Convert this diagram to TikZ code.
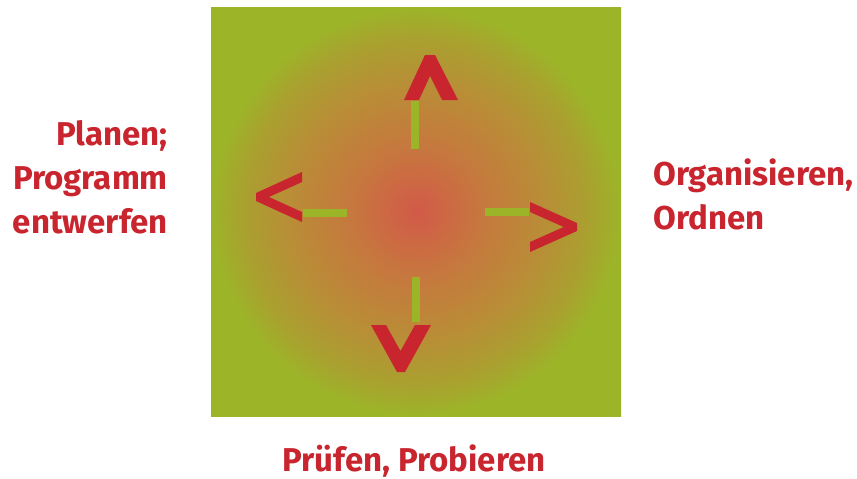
\documentclass[tikz,border=0pt]{standalone}
\usepackage{fontspec}
\setmainfont{Fira Sans}
\usetikzlibrary{positioning}

\definecolor{zielrot}{RGB}{201,37,47}
\definecolor{wiesengruen}{RGB}{156,181,40}
\definecolor{kernrot}{RGB}{210,90,72}
\definecolor{glutorange}{RGB}{198,120,62}
\definecolor{glutbraun}{RGB}{186,140,55}
\definecolor{glutoliv}{RGB}{170,160,48}
\pgfdeclareradialshading{glut}{\pgfpoint{0bp}{0bp}}{color(0bp)=(kernrot); color(8bp)=(glutorange); color(15bp)=(glutbraun); color(21bp)=(glutoliv); color(25bp)=(wiesengruen); color(50bp)=(wiesengruen)}

\begin{document}
\begin{tikzpicture}[
    x=1pt, y=-1pt,
    caption/.style={text=zielrot, font=\fontsize{33}{44}\selectfont\bfseries, inner sep=0pt},
    spitze/.style={fill=zielrot},
    stummel/.style={draw=wiesengruen, line width=8pt}
]
\useasboundingbox (0,0) rectangle (857,479);

% Feld mit Verlauf
\node[shading=glut, minimum width=410pt, minimum height=409pt, inner sep=0pt] (feld) at (416,211.5) {};

% gruene Striche
\draw[stummel] (415,101) -- (415,149);
\draw[stummel] (416,277) -- (416,322);
\draw[stummel] (303,213) -- (347,213);
\draw[stummel] (485,212) -- (529,212);

% rote Spitzen
\fill[spitze] (404,100) -- (425,55) -- (435,55) -- (458,100) -- (442,100) -- (430,76) -- (419,100) -- cycle;
\fill[spitze] (371,325) -- (386,325) -- (400.5,351) -- (415,325) -- (431,325) -- (405,372) -- (397,372) -- cycle;
\fill[spitze] (302,172) -- (256,193) -- (256,201) -- (302,222) -- (302,212) -- (269,197) -- (302,182) -- cycle;
\fill[spitze] (530,202) -- (577,223) -- (577,231) -- (530,252) -- (530,242) -- (563.6,227) -- (530,212) -- cycle;

% Beschriftungen
\node[caption, align=right, anchor=base east] (planen) at (168,233) {Planen;\\Programm\\entwerfen};
\node[caption, align=left, anchor=base west] (ordnen) at (653,229) {Organisieren,\\Ordnen};
\node[caption, anchor=base] (pruefen) at (414,471) {Prüfen, Probieren};
\end{tikzpicture}
\end{document}
